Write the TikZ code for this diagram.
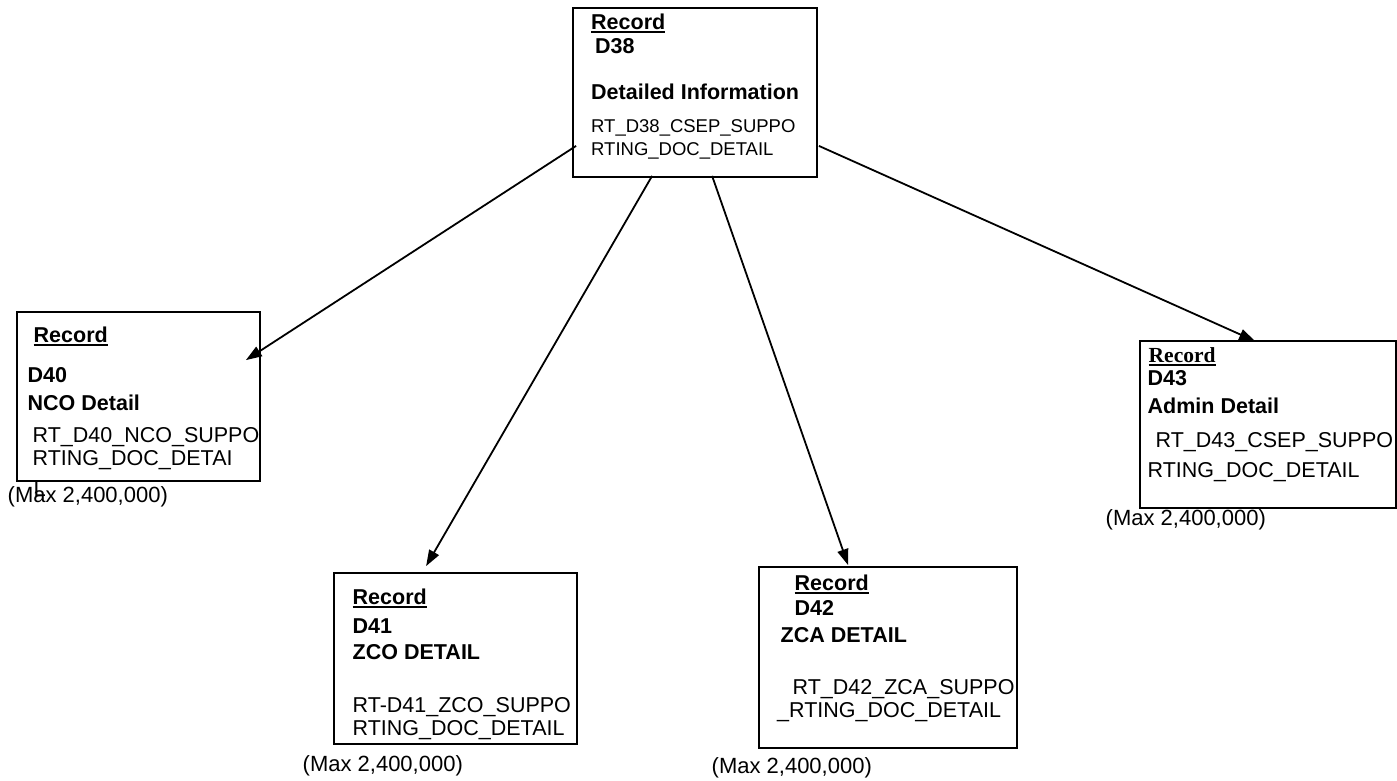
\documentclass[tikz,border=0pt]{standalone}
\usepackage{fontspec}
\setmainfont{Liberation Sans}
\newfontfamily\recserif{Liberation Serif}
\usetikzlibrary{arrows.meta,calc}

\newcommand{\rechead}[1]{\rule{0pt}{16pt}\sbox0{\textbf{#1}}\usebox0\llap{\rule[-3.5pt]{\wd0}{1.7pt}}}

\tikzset{
  recbox/.style={draw,line width=1.8pt,inner sep=0pt},
  rectext/.style={anchor=north west,inner sep=0pt,align=left,font=\fontsize{21.5}{24}\selectfont},
  maxnote/.style={anchor=base west,inner sep=0pt,font=\fontsize{22}{24}\selectfont},
  link/.style={->,line width=1.8pt},
  >={Triangle[length=16pt,width=11pt]}
}

\begin{document}
\begin{tikzpicture}[x=1pt,y=-1pt]
        \useasboundingbox (0,0) rectangle (1397,780);

        \node (D38) at (695,92.5)    [recbox,minimum width=244pt,minimum height=169pt] {};
        \node (D40) at (138.5,396.5) [recbox,minimum width=243pt,minimum height=169pt] {};
        \node (D41) at (455.5,658.5) [recbox,minimum width=243pt,minimum height=171pt] {};
        \node (D42) at (888,657.5)   [recbox,minimum width=258pt,minimum height=181pt] {};
        \node (D43) at (1268,424.5)  [recbox,minimum width=256pt,minimum height=167pt] {};

        \node (D38txt) at (591,13) [rectext] {\rechead{Record}\\\hspace*{4pt}\textbf{D38}\\[22pt]\textbf{Detailed Information}\\[9pt]{\fontsize{18.5}{24}\selectfont RT\_D38\_CSEP\_SUPPO}\\[-1pt]{\fontsize{18.5}{24}\selectfont RTING\_DOC\_DETAIL}};
        \node (D40txt) at (27.5,326) [rectext] {\hspace*{6pt}\rechead{Record}\\[16pt]\textbf{D40}\\[4pt]\textbf{NCO Detail}\\[8pt]\hspace*{5pt}RT\_D40\_NCO\_SUPPO\\[-1pt]\hspace*{5pt}RTING\_DOC\_DETAI};
        \node (D41txt) at (352.5,588) [rectext] {\rechead{Record}\\[5pt]\textbf{D41}\\[2pt]\textbf{ZCO DETAIL}\\[29pt]RT-D41\_ZCO\_SUPPO\\[-1pt]RTING\_DOC\_DETAIL};
        \node (D42txt) at (777,574) [rectext] {\hspace*{17.5pt}\rechead{Record}\\[1pt]\hspace*{17.5pt}\textbf{D42}\\[3pt]\hspace*{3.5pt}\textbf{ZCA DETAIL}\\[28pt]\hspace*{15.5pt}RT\_D42\_ZCA\_SUPPO\\[-1pt]\_RTING\_DOC\_DETAIL};
        \node (D43txt) at (1147.5,346) [rectext] {\hspace*{1pt}{\recserif\rechead{Record}}\\[-1pt]\textbf{D43}\\[4pt]\textbf{Admin Detail}\\[10pt]\hspace*{8pt}RT\_D43\_CSEP\_SUPPO\\[6pt]RTING\_DOC\_DETAIL};

        \node (D40cut) at (33.5,496)   [maxnote] {L};
        \node (D40max) at (7.5,502.5)  [maxnote] {(Max 2,400,000)};
        \node (D41max) at (302.5,771)  [maxnote] {(Max 2,400,000)};
        \node (D42max) at (711.5,773)  [maxnote] {(Max 2,400,000)};
        \node (D43max) at (1105.5,525) [maxnote] {(Max 2,400,000)};

        \draw[link] ($(D38.south west)+(4,-32)$) -- ($(D40.north east)+(-15,49)$);
        \draw[link] ($(D38.south west)+(80,-2)$) -- ($(D41.north west)+(93,-6)$);
        \draw[link] ($(D38.south west)+(140,-2)$) -- ($(D42.north west)+(90,-1)$);
        \draw[link] ($(D38.south east)+(1,-32)$) -- ($(D43.north west)+(116,1)$);
    \end{tikzpicture}
\end{document}
